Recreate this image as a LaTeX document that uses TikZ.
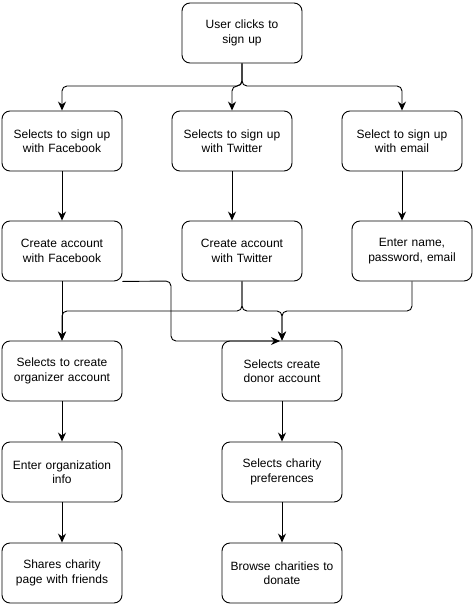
\documentclass[tikz,border=0pt]{standalone}
\usepackage{fontspec}
\setmainfont{Liberation Sans}
\usetikzlibrary{arrows.meta}
\begin{document}
\begin{tikzpicture}[x=1pt,y=-1pt,
  box/.style={draw,line width=0.9pt,rounded corners=8pt,minimum width=120pt,minimum height=60pt,
    text width=116pt,align=center,inner sep=0pt,font=\fontsize{12}{14.5}\selectfont},
  conn/.style={line width=0.9pt,rounded corners=5pt,-{Stealth[length=9pt,width=8pt,inset=3pt]}}]
\useasboundingbox (0,0) rectangle (473,608);
\node[box] (user) at (242,33) {User clicks to\\sign up};
\node[box] (fbs) at (62,141) {Selects to sign up\\with Facebook};
\node[box] (tws) at (232,141) {Selects to sign up\\with Twitter};
\node[box] (ems) at (402,141) {Select to sign up\\with email};
\node[box] (fbc) at (62,251) {Create account\\with Facebook};
\node[box] (twc) at (242,251) {Create account\\with Twitter};
\node[box] (emc) at (412,251) {Enter name,\\password, email};
\node[box] (org) at (62,371) {Selects to create\\organizer account};
\node[box] (don) at (282,371) {Selects create\\donor account};
\node[box] (orgi) at (62,472) {Enter organization\\info};
\node[box] (pref) at (282,472) {Selects charity\\preferences};
\node[box] (share) at (62,573) {Shares charity\\page with friends};
\node[box] (brow) at (282,573) {Browse charities to\\donate};
% top fan-out
\draw[conn] (user.south) -- (242,86) -| (fbs.north);
\draw[conn] (user.south) -- (242,86) -| (tws.north);
\draw[conn] (user.south) -- (242,86) -| (ems.north);
% row 2 to row 3
\draw[conn] (fbs.south) -- (fbc.north);
\draw[conn] (tws.south) -- (tws.south |- twc.north);
\draw[conn] (ems.south) -- (ems.south |- emc.north);
% row 3 to row 4
\draw[conn] (fbc.south) -- (org.north);
\draw[conn] (fbc.south east) -- (171,281) |- (280,341);
\draw[conn] (twc.south) -- (242,311) -| (org.north);
\draw[conn] (twc.south) -- (242,311) -| (don.north);
\draw[conn] (emc.south) -- (412,311) -| (don.north);
% lower chains
\draw[conn] (org.south) -- (orgi.north);
\draw[conn] (orgi.south) -- (share.north);
\draw[conn] (don.south) -- (pref.north);
\draw[conn] (pref.south) -- (brow.north);
\end{tikzpicture}
\end{document}
